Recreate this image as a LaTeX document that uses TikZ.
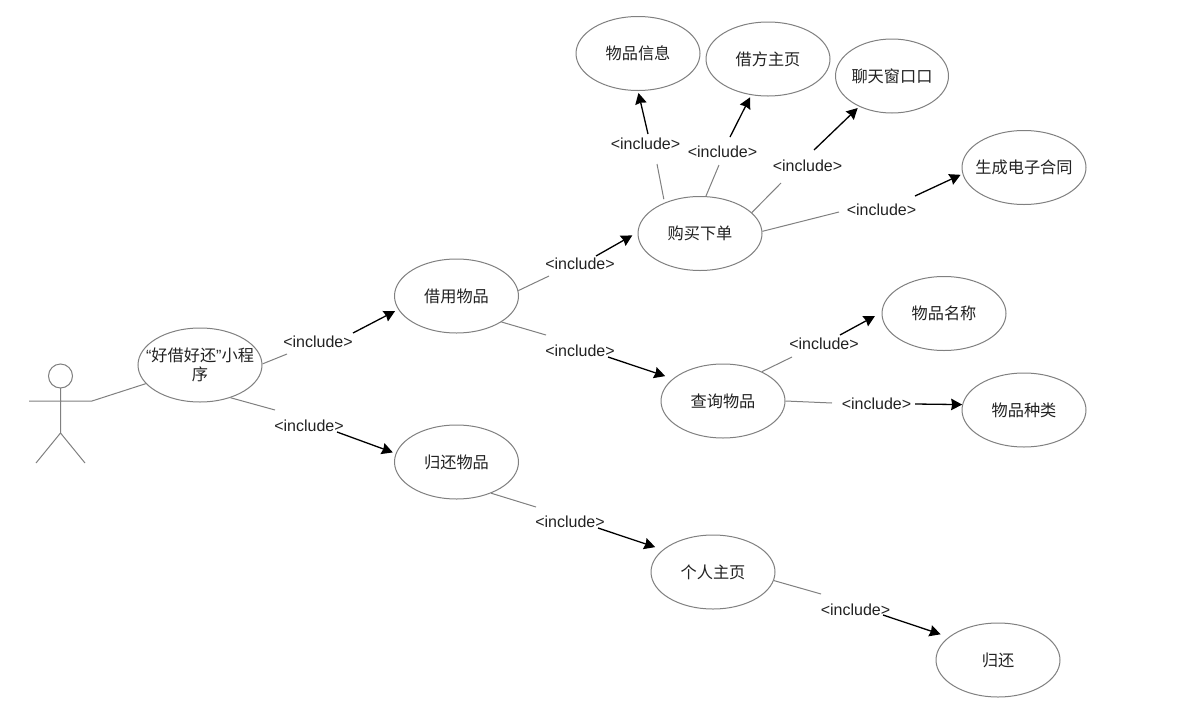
\documentclass[tikz,border=0pt]{standalone}
\usepackage{fontspec}
\setmainfont{Liberation Sans}
\newfontfamily\cjk{Noto Sans CJK SC}
\usetikzlibrary{shapes.geometric,arrows.meta}
\definecolor{edgegrey}{HTML}{808080}
\definecolor{inktext}{HTML}{222222}
\tikzset{
  usecase/.style={ellipse,draw=edgegrey,line width=1pt,fill=white,minimum width=124pt,minimum height=74pt,
    inner xsep=-25pt,inner ysep=0pt,align=center,text=inktext,font=\fontsize{16.2}{18.5}\selectfont\cjk},
  incl/.style={inner sep=0pt,text=inktext,font=\fontsize{16}{18}\selectfont},
  plain/.style={draw=edgegrey,line width=1pt},
  flow/.style={draw=black,line width=1.3pt,-{Stealth[length=11pt,width=11.5pt,inset=1pt]}},
}
\begin{document}
\begin{tikzpicture}[x=1pt,y=-1pt]
\useasboundingbox (0,0) rectangle (1187,710);
\fill[white] (0,0) rectangle (1187,710);
% actor
\coordinate (head) at (60.5,376);
\coordinate (neck) at (60.5,388);
\coordinate (crotch) at (60.5,433);
\coordinate (handL) at (29,401);
\coordinate (handR) at (92,401);
\coordinate (footL) at (36,463);
\coordinate (footR) at (85,463);
\draw[plain] (head) circle (12);
\draw[plain] (neck) -- (crotch) (handL) -- (handR) (footL) -- (crotch) -- (footR);
% use cases
\node[usecase] (prog) at (200,365) {{\normalfont “}好借好还{\normalfont ”}小程\\序};
\node[usecase] (borrow) at (456.5,296) {借用物品};
\node[usecase] (back) at (456.5,462) {归还物品};
\node[usecase] (buy) at (700,233.5) {购买下单};
\node[usecase] (query) at (723,401) {查询物品};
\node[usecase] (home) at (713,572) {个人主页};
\node[usecase] (info) at (638,53.5) {物品信息};
\node[usecase] (lender) at (768,59) {借方主页};
\node[usecase,minimum width=113pt] (chat) at (892,76) {聊天窗口口};
\node[usecase] (contract) at (1024,167.5) {生成电子合同};
\node[usecase] (pname) at (944,313.5) {物品名称};
\node[usecase] (pkind) at (1024,410) {物品种类};
\node[usecase] (ret) at (998,660) {归还};
% labels
\node[incl] (l1) at (318,341.5) {<include>};
\node[incl] (l2) at (309,425.5) {<include>};
\node[incl] (l3) at (580,263.5) {<include>};
\node[incl] (l4) at (580,350.5) {<include>};
\node[incl] (l5) at (645.5,143.5) {<include>};
\node[incl] (l6) at (722.5,151.5) {<include>};
\node[incl] (l7) at (807.5,165.5) {<include>};
\node[incl] (l8) at (881.5,209.5) {<include>};
\node[incl] (l9) at (824,343.5) {<include>};
\node[incl] (l10) at (876.5,403.5) {<include>};
\node[incl] (l11) at (570,521.5) {<include>};
\node[incl] (l12) at (855.5,609.5) {<include>};
% free ends either side of the labels
\coordinate (a1) at (287,354);   \coordinate (b1) at (353,333);
\coordinate (a2) at (275,410);   \coordinate (b2) at (337,432);
\coordinate (a3) at (549,276);   \coordinate (b3) at (596,256);
\coordinate (a4) at (546,335);   \coordinate (b4) at (608,357);
\coordinate (a5) at (657,164);   \coordinate (b5) at (648,134);
\coordinate (a6) at (719,165);   \coordinate (b6) at (730,137);
\coordinate (a7) at (781,183);   \coordinate (b7) at (814,150);
\coordinate (a8) at (839,212);   \coordinate (b8) at (915,196);
\coordinate (a9) at (792,357);   \coordinate (b9) at (840,335);
\coordinate (a10) at (832,403);  \coordinate (b10) at (915,404);
\coordinate (a11) at (536,507);  \coordinate (b11) at (598,528);
\coordinate (a12) at (821,594);  \coordinate (b12) at (883,615);
% connectors
\draw[plain] (handR) -- (prog.199);
\draw[plain] (prog.1) -- (a1);
\draw[flow,shorten >=3.5pt] (b1) -- (borrow.193);
\draw[plain] (prog.-47) -- (a2);
\draw[flow,shorten >=3pt] (b2) -- (back.172);
\draw[plain] (borrow.5) -- (a3);
\draw[flow,shorten >=6pt] (b3) -- (buy.179);
\draw[plain] (borrow.-30) -- (a4);
\draw[flow,shorten >=8pt] (b4) -- (query.156);
\draw[plain,shorten <=3.5pt] (buy.139) -- (a5);
\draw[flow,shorten >=2pt] (b5) -- (info.-90);
\draw[plain] (buy.81) -- (a6);
\draw[flow,shorten >=2.5pt] (b6) -- (lender.245);
\draw[plain] (buy.22) -- (a7);
\draw[flow,shorten >=2pt] (b7) -- (chat.223);
\draw[plain] (buy.2) -- (a8);
\draw[flow,shorten >=2pt] (b8) -- (contract.186);
\draw[plain] (query.37) -- (a9);
\draw[flow,shorten >=7.5pt] (b9) -- (pname.179);
\draw[plain] (query.0) -- (a10);
\draw[flow] (b10) -- (pkind.175);
\draw[plain] (back.-42) -- (a11);
\draw[flow,shorten >=8pt] (b11) -- (home.156);
\draw[plain] (home.-8) -- (a12);
\draw[flow,shorten >=8.5pt] (b12) -- (ret.155);
\end{tikzpicture}
\end{document}
